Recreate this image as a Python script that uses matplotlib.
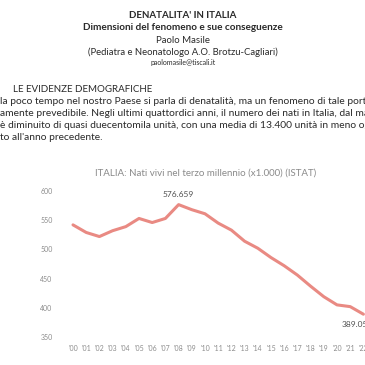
import numpy as np
import matplotlib.pyplot as plt

plt.rcParams['font.family'] = ['Lato', 'DejaVu Sans']

# dati (nati vivi x1000)
anni = ["'00", "'01", "'02", "'03", "'04", "'05", "'06", "'07", "'08", "'09", "'10",
        "'11", "'12", "'13", "'14", "'15", "'16", "'17", "'18", "'19", "'20", "'21", "'22"]
nati = [542, 529, 522, 532, 539, 553, 546, 553, 576.659, 568, 561,
        545, 533, 514, 502, 486, 472, 456, 437, 419, 405, 402, 389.05]
y_ticks = [350, 400, 450, 500, 550, 600]

intestazione = ["DENATALITA' IN ITALIA",
                "Dimensioni del fenomeno e sue conseguenze",
                "Paolo Masile",
                "(Pediatra e Neonatologo A.O. Brotzu-Cagliari)",
                "paolomasile@tiscali.it"]
paragrafo = ["la poco tempo nel nostro Paese si parla di denatalità, ma un fenomeno di tale portat",
             "amente prevedibile. Negli ultimi quattordici anni, il numero dei nati in Italia, dal mass",
             "è diminuito di quasi duecentomila unità, con una media di 13.400 unità in meno ogn",
             "to all'anno precedente."]

W = 365
fig = plt.figure(figsize=(3.65, 3.65), dpi=100)
fig.patch.set_facecolor('white')

def px(x, y):
    return x / W, 1 - y / W

# testo del documento
tc = '#2a2a2a'
fig.text(*px(183, 15), intestazione[0], ha='center', va='center', fontsize=7.0, fontweight='bold', color=tc)
fig.text(*px(183, 27.5), intestazione[1], ha='center', va='center', fontsize=7.2, fontweight='bold', color=tc)
fig.text(*px(183, 40.5), intestazione[2], ha='center', va='center', fontsize=6.9, color=tc)
fig.text(*px(183, 52.5), intestazione[3], ha='center', va='center', fontsize=6.8, color=tc)
fig.text(*px(183, 63), intestazione[4], ha='center', va='center', fontsize=5.0, color=tc)
fig.text(*px(13, 89.5), "LE EVIDENZE DEMOGRAFICHE", ha='left', va='center', fontsize=7.0, color=tc)
for i, riga in enumerate(paragrafo):
    fig.text(*px(0, 102 + i * 11.8), riga, ha='left', va='center', fontsize=7.4, color=tc)

# grafico
ax = fig.add_axes([66.4 / W, 28 / W, 303.6 / W, 146 / W])
x = np.arange(len(nati))
ax.plot(x, nati, color='#e98a83', lw=2.2, solid_capstyle='round', solid_joinstyle='round')
ax.set_xlim(-0.5, 22.5)
ax.set_ylim(350, 600)
ax.set_xticks(x)
ax.set_xticklabels(anni)
ax.set_yticks(y_ticks)
for s in ax.spines.values():
    s.set_visible(False)
ax.tick_params(length=0, labelsize=5.0, labelcolor='#8c8c8c')
ax.tick_params(axis='y', pad=10)
ax.tick_params(axis='x', pad=6)
ax.set_facecolor('none')

ax.annotate('576.659', (8, nati[8]), xytext=(0, 5), textcoords='offset points',
            ha='center', va='bottom', fontsize=6.0, color='#505050')
ax.annotate('389.05', (22, nati[22]), xytext=(-6, -5), textcoords='offset points',
            ha='center', va='top', fontsize=6.0, color='#505050', annotation_clip=False)

fig.text(*px(206, 173), "ITALIA: Nati vivi nel terzo millennio (x1.000) (ISTAT)",
         ha='center', va='center', fontsize=7.0, color='#8a8a8a')

fig.savefig('out.png', dpi=100)
